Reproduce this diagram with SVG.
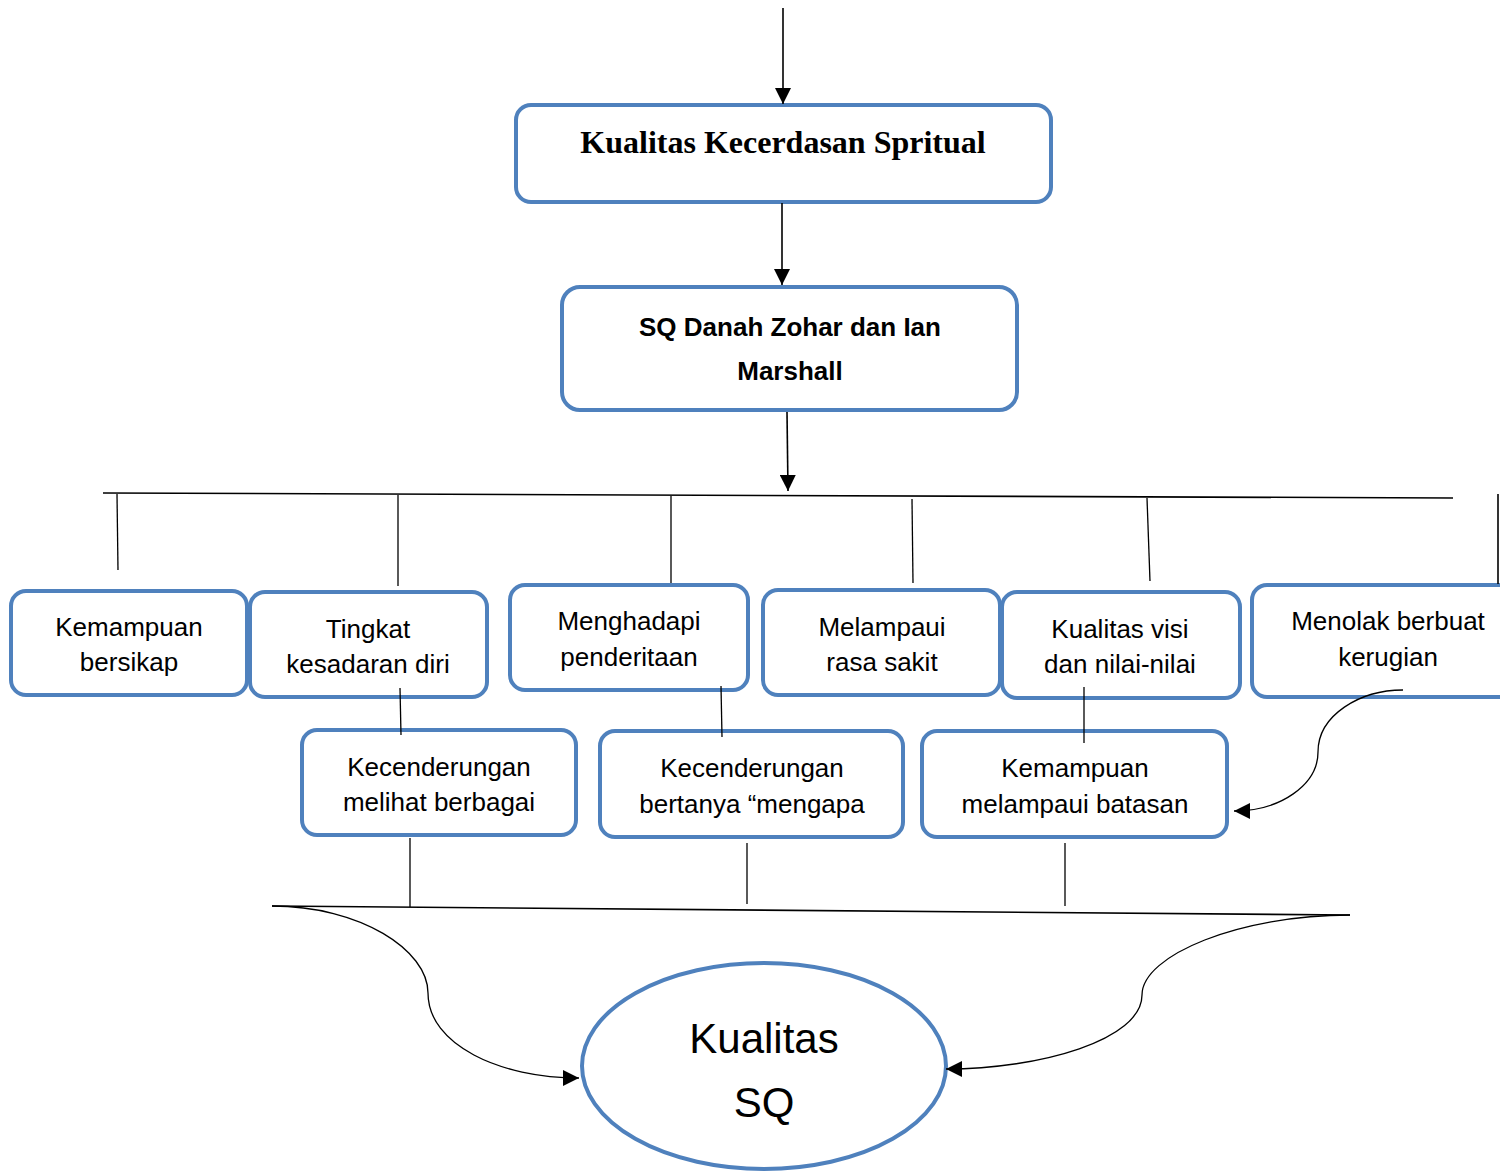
<svg xmlns="http://www.w3.org/2000/svg" width="1500" height="1173" viewBox="0 0 1500 1173">
<defs>
<marker id="arrb" viewBox="0 0 10 10" refX="10" refY="5" markerWidth="16" markerHeight="16" markerUnits="userSpaceOnUse" orient="auto">
<path d="M0,0 L10,5 L0,10 z" fill="#000"/>
</marker>
<style>
.box{fill:#fff;stroke:#4f81bd;stroke-width:4}
.ln{fill:none;stroke:#000;stroke-width:1.6}
.lt{fill:none;stroke:#000;stroke-width:1.3}
.t{font-family:"Liberation Sans",Arial,sans-serif;font-size:26px;fill:#000;text-anchor:middle}
.tb{font-family:"Liberation Sans",Arial,sans-serif;font-size:26px;font-weight:bold;fill:#000;text-anchor:middle}
.ts{font-family:"Liberation Serif","Times New Roman",serif;font-size:32px;font-weight:bold;fill:#000;text-anchor:middle}
.tl{font-family:"Liberation Sans",Arial,sans-serif;font-size:42px;fill:#000;text-anchor:middle}
</style>
</defs>
<rect width="1500" height="1173" fill="#fff"/>

<g id="n-kualitas-kecerdasan">
<rect class="box" x="516" y="105" width="535" height="97" rx="15"/>
<text class="ts" x="783" y="153">Kualitas Kecerdasan Spritual</text>
</g>
<g id="n-sq-danah">
<rect class="box" x="562" y="287" width="455" height="123" rx="18"/>
<text class="tb" x="790" y="336">SQ Danah Zohar dan Ian</text>
<text class="tb" x="790" y="380">Marshall</text>
</g>

<g id="n-kemampuan-bersikap">
<rect class="box" x="11" y="591" width="236" height="104" rx="15"/>
<text class="t" x="129" y="636">Kemampuan</text>
<text class="t" x="129" y="671">bersikap</text>
</g>
<g id="n-tingkat">
<rect class="box" x="250" y="592" width="237" height="105" rx="15"/>
<text class="t" x="368" y="638">Tingkat</text>
<text class="t" x="368" y="673">kesadaran diri</text>
</g>
<g id="n-menghadapi">
<rect class="box" x="510" y="585" width="238" height="105" rx="15"/>
<text class="t" x="629" y="630">Menghadapi</text>
<text class="t" x="629" y="666">penderitaan</text>
</g>
<g id="n-melampaui">
<rect class="box" x="763" y="590" width="237" height="105" rx="15"/>
<text class="t" x="882" y="636">Melampaui</text>
<text class="t" x="882" y="671">rasa sakit</text>
</g>
<g id="n-kualitas-visi">
<rect class="box" x="1002" y="592" width="238" height="106" rx="15"/>
<text class="t" x="1120" y="638">Kualitas visi</text>
<text class="t" x="1120" y="673">dan nilai-nilai</text>
</g>
<g id="n-menolak">
<rect class="box" x="1252" y="585" width="262" height="112" rx="15"/>
<text class="t" x="1388" y="630">Menolak berbuat</text>
<text class="t" x="1388" y="666">kerugian</text>
</g>

<g id="n-kecenderungan-melihat">
<rect class="box" x="302" y="730" width="274" height="105" rx="15"/>
<text class="t" x="439" y="776">Kecenderungan</text>
<text class="t" x="439" y="811">melihat berbagai</text>
</g>
<g id="n-kecenderungan-bertanya">
<rect class="box" x="600" y="731" width="303" height="106" rx="15"/>
<text class="t" x="752" y="777">Kecenderungan</text>
<text class="t" x="752" y="813">bertanya “mengapa</text>
</g>
<g id="n-kemampuan-melampaui">
<rect class="box" x="922" y="731" width="305" height="106" rx="15"/>
<text class="t" x="1075" y="777">Kemampuan</text>
<text class="t" x="1075" y="813">melampaui batasan</text>
</g>

<g id="n-kualitas-sq">
<ellipse cx="764" cy="1066" rx="182" ry="103" fill="#fff" stroke="#4f81bd" stroke-width="4"/>
<text class="tl" x="764" y="1053">Kualitas</text>
<text class="tl" x="764" y="1117">SQ</text>
</g>

<g id="connectors">
<line class="ln" x1="783" y1="8" x2="783" y2="104" marker-end="url(#arrb)"/>
<line class="ln" x1="782" y1="203" x2="782" y2="285" marker-end="url(#arrb)"/>
<line class="ln" x1="787" y1="412" x2="788" y2="491" marker-end="url(#arrb)"/>
<line class="ln" x1="103" y1="493" x2="1453" y2="498"/>
<line class="ln" x1="1498" y1="494" x2="1498" y2="584"/>
<line class="lt" x1="117" y1="494" x2="118" y2="570"/>
<line class="lt" x1="398" y1="495" x2="398" y2="586"/>
<line class="lt" x1="671" y1="496" x2="671" y2="583"/>
<line class="lt" x1="912" y1="499" x2="913" y2="583"/>
<line class="lt" x1="1147" y1="498" x2="1150" y2="581"/>
<line class="lt" x1="400" y1="688" x2="401" y2="735"/>
<line class="lt" x1="721" y1="686" x2="722" y2="737"/>
<line class="lt" x1="1084" y1="687" x2="1084" y2="743"/>
<path class="lt" d="M1403,690 C1360,690 1318,715 1318,752 C1318,785 1280,811 1234,811" marker-end="url(#arrb)"/>
<line class="lt" x1="410" y1="838" x2="410" y2="907"/>
<line class="lt" x1="747" y1="843" x2="747" y2="904"/>
<line class="lt" x1="1065" y1="843" x2="1065" y2="906"/>
<line class="ln" x1="272" y1="906" x2="1350" y2="915"/>
<path class="lt" d="M272,906 C360,906 428,950 428,993 C428,1045 500,1078 579,1078" marker-end="url(#arrb)"/>
<path class="lt" d="M1350,915 C1240,915 1142,955 1142,995 C1142,1040 1040,1069 946,1069" marker-end="url(#arrb)"/>
</g>
</svg>
